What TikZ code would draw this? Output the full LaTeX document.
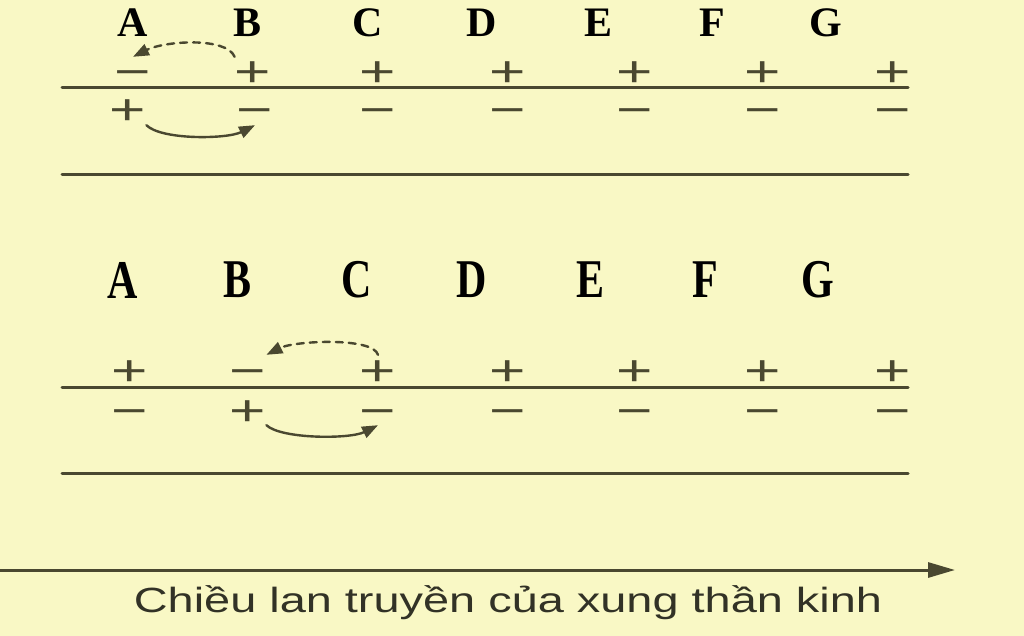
\documentclass[tikz,border=0pt]{standalone}
\usepackage{fontspec}
\usepackage{graphicx}
\setmainfont{Liberation Serif}
\setsansfont{Liberation Sans}
\usetikzlibrary{arrows.meta}
\definecolor{paper}{RGB}{249,248,197}
\definecolor{ink}{RGB}{74,72,48}
\newcommand{\pl}{\scalebox{1.45}[1]{+}}
\newcommand{\mn}{\scalebox{1.45}[1]{−}}
\tikzset{
  letter/.style={font=\fontsize{42}{42}\selectfont\bfseries, text=black, inner sep=0pt},
  sign/.style={font=\sffamily\fontsize{43}{43}\selectfont, text=ink, inner sep=0pt, text height=30pt, text depth=0pt},
  membrane/.style={draw=ink, line width=3pt},
  current/.style={draw=ink, line width=2.4pt, -{Triangle[length=16pt,width=12pt]}},
}
\begin{document}
\begin{tikzpicture}[x=1pt,y=-1pt,line cap=round,line join=round]
\fill[paper] (0,0) rectangle (1024,636);
\useasboundingbox (0,0) rectangle (1024,636);
% first fibre
\node[letter] (A1) at (133,23) {A};
\node[letter] (B1) at (248,23) {B};
\node[letter] (C1) at (368,23) {C};
\node[letter] (D1) at (482,23) {D};
\node[letter] (E1) at (598,23) {E};
\node[letter] (F1) at (712,23) {F};
\node[letter] (G1) at (826,23) {G};
\node[sign] (o1a) at (133,72) {\mn};
\node[sign] (o1b) at (253,72) {\pl};
\node[sign] (o1c) at (378,72) {\pl};
\node[sign] (o1d) at (508,72) {\pl};
\node[sign] (o1e) at (635,72) {\pl};
\node[sign] (o1f) at (763,72) {\pl};
\node[sign] (o1g) at (893,72) {\pl};
\node[sign] (i1a) at (128,110) {\pl};
\node[sign] (i1b) at (255,110) {\mn};
\node[sign] (i1c) at (378,110) {\mn};
\node[sign] (i1d) at (508,110) {\mn};
\node[sign] (i1e) at (635,110) {\mn};
\node[sign] (i1f) at (763,110) {\mn};
\node[sign] (i1g) at (893,110) {\mn};
\coordinate (m1l) at (62,88);
\coordinate (m1r) at (908,88);
\coordinate (w1l) at (62,175);
\coordinate (w1r) at (908,175);
\draw[membrane] (m1l) -- (m1r);
\draw[membrane] (w1l) -- (w1r);
\draw[current, dash pattern=on 7pt off 6pt] (o1b.north west) .. controls +(-8,-20) and +(32,-16) .. (o1a.north);
\draw[current] (i1a.south east) .. controls +(15,15) and +(-28,14) .. (i1b.south);
% second fibre
\node[letter] (A2) at (123,280) {\scalebox{1}[1.3]{A}};
\node[letter] (B2) at (238,280) {\scalebox{1}[1.3]{B}};
\node[letter] (C2) at (357,280) {\scalebox{1}[1.3]{C}};
\node[letter] (D2) at (472,280) {\scalebox{1}[1.3]{D}};
\node[letter] (E2) at (590,280) {\scalebox{1}[1.3]{E}};
\node[letter] (F2) at (705,280) {\scalebox{1}[1.3]{F}};
\node[letter] (G2) at (818,280) {\scalebox{1}[1.3]{G}};
\node[sign] (o2a) at (130,370) {\pl};
\node[sign] (o2b) at (248,370) {\mn};
\node[sign] (o2c) at (378,370) {\pl};
\node[sign] (o2d) at (508,370) {\pl};
\node[sign] (o2e) at (635,370) {\pl};
\node[sign] (o2f) at (763,370) {\pl};
\node[sign] (o2g) at (893,370) {\pl};
\node[sign] (i2a) at (130,410) {\mn};
\node[sign] (i2b) at (248,410) {\pl};
\node[sign] (i2c) at (378,410) {\mn};
\node[sign] (i2d) at (508,410) {\mn};
\node[sign] (i2e) at (635,410) {\mn};
\node[sign] (i2f) at (763,410) {\mn};
\node[sign] (i2g) at (893,410) {\mn};
\coordinate (m2l) at (62,387);
\coordinate (m2r) at (908,387);
\coordinate (w2l) at (62,473);
\coordinate (w2r) at (908,473);
\draw[membrane] (m2l) -- (m2r);
\draw[membrane] (w2l) -- (w2r);
\draw[current, dash pattern=on 7pt off 6pt] (o2c.north) .. controls +(-5,-18) and +(28,-14) .. (o2b.north east);
\draw[current] (i2b.south east) .. controls +(15,14) and +(-28,14) .. (i2c.south);
% direction
\coordinate (dirS) at (0,570);
\coordinate (dirE) at (955,570);
\draw[draw=ink, line width=3pt, -{Triangle[length=27pt,width=15pt]}] (dirS) -- (dirE);
\node[font=\sffamily\fontsize{35}{35}\selectfont, text={rgb,255:red,50;green,50;blue,38}, inner sep=0pt] (cap) at (508,603) {\scalebox{1.34}[1]{Chiều lan truyền của xung thần kinh}};
\end{tikzpicture}
\end{document}
